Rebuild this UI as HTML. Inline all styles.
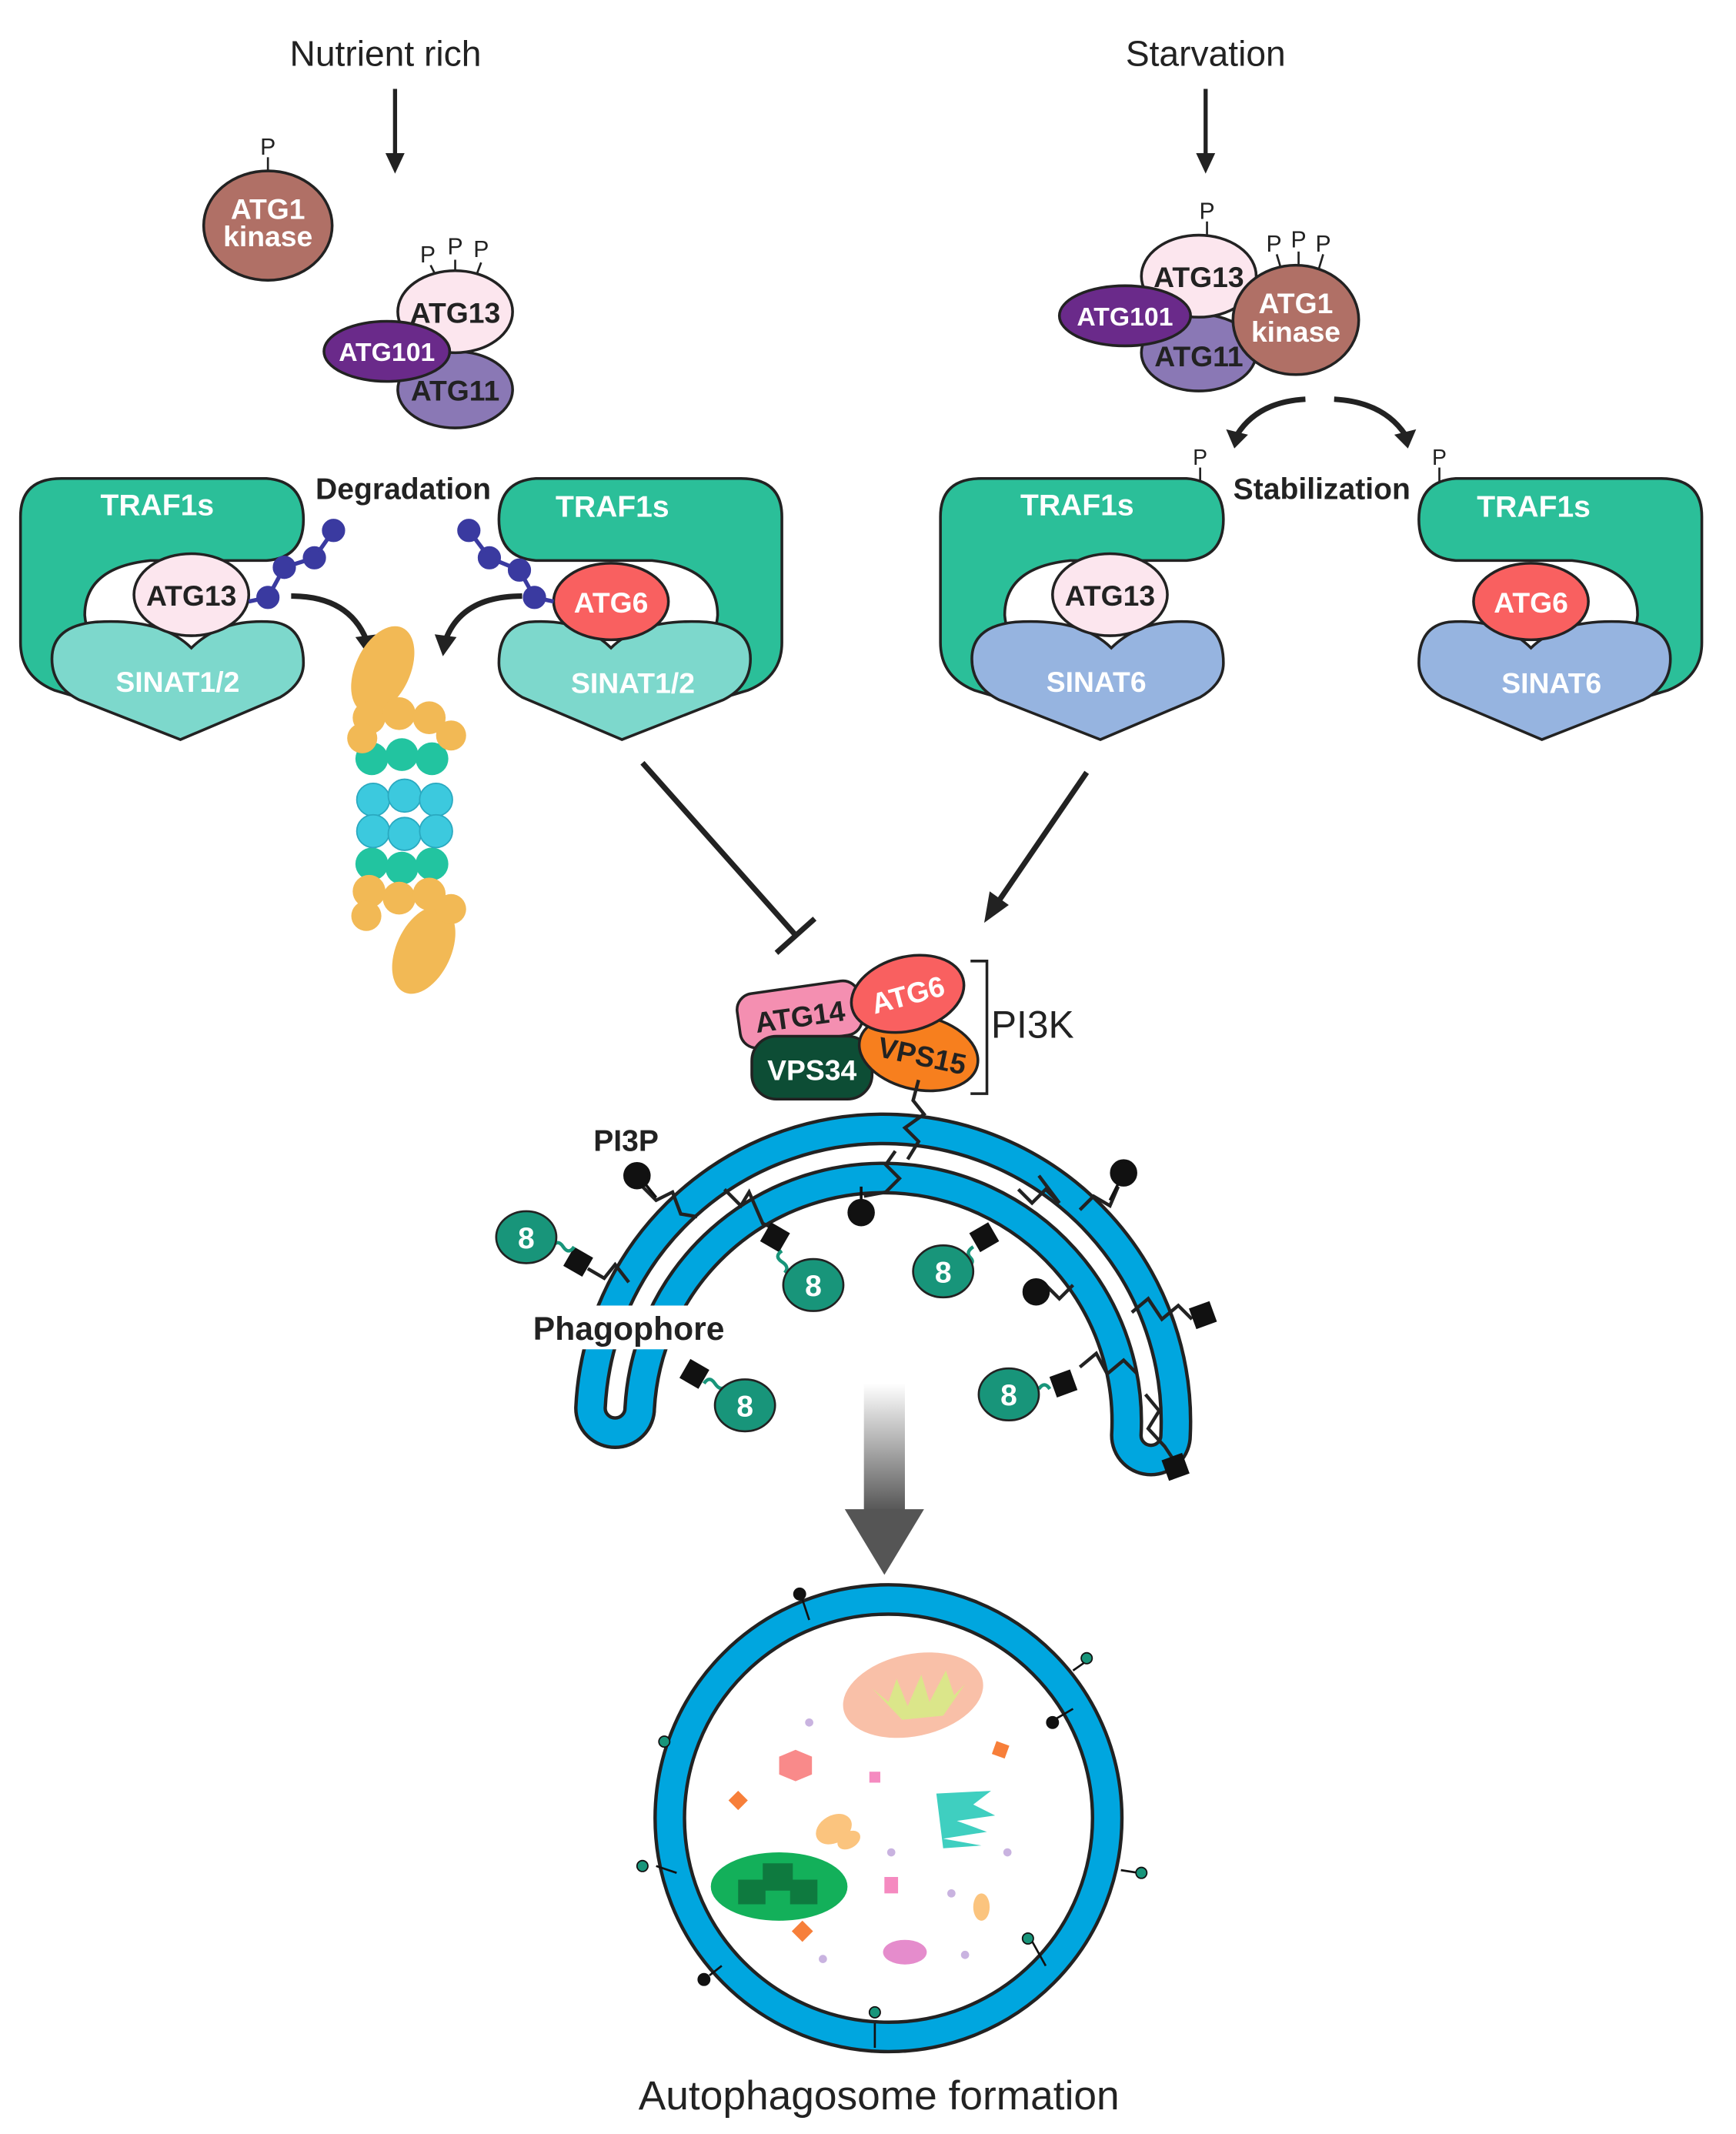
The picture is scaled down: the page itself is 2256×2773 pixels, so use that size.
<!DOCTYPE html>
<html><head><meta charset="utf-8"><style>
html,body{margin:0;padding:0;background:#fff}
svg{display:block}
text{font-family:"Liberation Sans",Arial,sans-serif}
</style></head><body>
<svg xmlns="http://www.w3.org/2000/svg" width="2256" height="2773" viewBox="0 0 1270 1561">
<defs>
<path id="traf" d="M45 350 L195 350 Q222 352 222 380 Q222 408 195 410 L110 410 Q62 415 62 450 Q64 475 90 490 L90 520 L40 505 Q15 495 15 470 L15 378 Q15 350 45 350 Z" stroke="#222" stroke-width="2"/>
<path id="sinat" d="M38 482 Q38 458 70 455 Q118 452 140 474 Q162 452 200 455 Q222 458 222 485 Q222 500 205 510 L132 541 L58 512 Q38 502 38 482 Z" stroke="#222" stroke-width="2"/>
<linearGradient id="gr" x1="0" y1="0" x2="0" y2="1"><stop offset="0" stop-color="#fff"/><stop offset="1" stop-color="#555"/></linearGradient>
<g id="a8"><ellipse rx="22" ry="19" fill="#18957a" stroke="#222" stroke-width="1.5"/><text x="0" y="8" font-size="22" font-weight="bold" fill="#fff" text-anchor="middle">8</text></g>
</defs>

<text x="282" y="48" font-size="26" text-anchor="middle" fill="#222">Nutrient rich</text>
<text x="882" y="48" font-size="26" text-anchor="middle" fill="#222">Starvation</text>
<line x1="289" y1="65" x2="289" y2="115" stroke="#222" stroke-width="3"/><polygon points="282,112 296,112 289,127" fill="#222"/>
<line x1="882" y1="65" x2="882" y2="115" stroke="#222" stroke-width="3"/><polygon points="875,112 889,112 882,127" fill="#222"/>

<text x="196" y="113" font-size="17" text-anchor="middle" fill="#222">P</text>
<line x1="196" y1="115" x2="196" y2="126" stroke="#222" stroke-width="1.5"/>
<ellipse cx="196" cy="165" rx="47" ry="40" fill="#b07066" stroke="#222" stroke-width="2"/>
<text x="196" y="160" font-size="21" font-weight="bold" fill="#fff" text-anchor="middle">ATG1</text>
<text x="196" y="180" font-size="21" font-weight="bold" fill="#fff" text-anchor="middle">kinase</text>
<text x="313" y="192" font-size="17" text-anchor="middle" fill="#222">P</text>
<text x="333" y="186" font-size="17" text-anchor="middle" fill="#222">P</text>
<text x="352" y="188" font-size="17" text-anchor="middle" fill="#222">P</text>
<path d="M315 194 L318 200 M333 190 L333 199 M352 192 L349 200" stroke="#222" stroke-width="1.5"/>
<ellipse cx="333" cy="285" rx="42" ry="28" fill="#8a78b5" stroke="#222" stroke-width="2"/>
<text x="333" y="293" font-size="21" font-weight="bold" fill="#222" text-anchor="middle">ATG11</text>
<ellipse cx="333" cy="228" rx="42" ry="30" fill="#fce6ee" stroke="#222" stroke-width="2"/>
<text x="333" y="236" font-size="21" font-weight="bold" fill="#222" text-anchor="middle">ATG13</text>
<ellipse cx="283" cy="257" rx="46" ry="22" fill="#6a2a8a" stroke="#222" stroke-width="2"/>
<text x="283" y="264" font-size="19" font-weight="bold" fill="#fff" text-anchor="middle">ATG101</text>

<text x="883" y="160" font-size="17" text-anchor="middle" fill="#222">P</text>
<line x1="883" y1="162" x2="883" y2="173" stroke="#222" stroke-width="1.5"/>
<text x="932" y="184" font-size="17" text-anchor="middle" fill="#222">P</text>
<text x="950" y="181" font-size="17" text-anchor="middle" fill="#222">P</text>
<text x="968" y="184" font-size="17" text-anchor="middle" fill="#222">P</text>
<path d="M934 186 L937 196 M950 184 L950 195 M968 186 L965 196" stroke="#222" stroke-width="1.5"/>
<ellipse cx="877" cy="258" rx="42" ry="28" fill="#8a78b5" stroke="#222" stroke-width="2"/>
<text x="877" y="268" font-size="21" font-weight="bold" fill="#222" text-anchor="middle">ATG11</text>
<ellipse cx="877" cy="202" rx="42" ry="30" fill="#fce6ee" stroke="#222" stroke-width="2"/>
<text x="877" y="210" font-size="21" font-weight="bold" fill="#222" text-anchor="middle">ATG13</text>
<ellipse cx="823" cy="231" rx="48" ry="22" fill="#6a2a8a" stroke="#222" stroke-width="2"/>
<text x="823" y="238" font-size="19" font-weight="bold" fill="#fff" text-anchor="middle">ATG101</text>
<ellipse cx="948" cy="234" rx="46" ry="40" fill="#b07066" stroke="#222" stroke-width="2"/>
<text x="948" y="229" font-size="21" font-weight="bold" fill="#fff" text-anchor="middle">ATG1</text>
<text x="948" y="250" font-size="21" font-weight="bold" fill="#fff" text-anchor="middle">kinase</text>
<path d="M955 292 Q920 294 905 318" fill="none" stroke="#222" stroke-width="4"/><polygon points="897,314 913,318 903,328" fill="#222"/>
<path d="M976 292 Q1012 294 1028 318" fill="none" stroke="#222" stroke-width="4"/><polygon points="1020,318 1036,314 1030,328" fill="#222"/>

<text x="295" y="365" font-size="22" font-weight="bold" fill="#222" text-anchor="middle">Degradation</text>
<text x="967" y="365" font-size="22" font-weight="bold" fill="#222" text-anchor="middle">Stabilization</text>
<text x="878" y="340" font-size="16" fill="#222" text-anchor="middle">P</text><line x1="878" y1="342" x2="878" y2="352" stroke="#222" stroke-width="1.5"/>
<text x="1053" y="340" font-size="16" fill="#222" text-anchor="middle">P</text><line x1="1053" y1="342" x2="1053" y2="352" stroke="#222" stroke-width="1.5"/>

<use href="#traf" fill="#2bbf99"/>
<use href="#sinat" fill="#7dd8cc"/>
<g transform="translate(587,0) scale(-1,1)"><use href="#traf" fill="#2bbf99"/><use href="#sinat" fill="#7dd8cc"/></g>
<g transform="translate(673,0)"><use href="#traf" fill="#2bbf99"/><use href="#sinat" fill="#96b4e0"/></g>
<g transform="translate(1260,0) scale(-1,1)"><use href="#traf" fill="#2bbf99"/><use href="#sinat" fill="#96b4e0"/></g>

<g font-weight="bold" fill="#fff" text-anchor="middle">
<text x="115" y="377" font-size="22">TRAF1s</text>
<text x="448" y="378" font-size="22">TRAF1s</text>
<text x="788" y="377" font-size="22">TRAF1s</text>
<text x="1122" y="378" font-size="22">TRAF1s</text>
<text x="130" y="506" font-size="21">SINAT1/2</text>
<text x="463" y="507" font-size="21">SINAT1/2</text>
<text x="802" y="506" font-size="21">SINAT6</text>
<text x="1135" y="507" font-size="21">SINAT6</text>
</g>
<ellipse cx="140" cy="435" rx="42" ry="30" fill="#fce6ee" stroke="#222" stroke-width="2"/>
<text x="140" y="443" font-size="21" font-weight="bold" fill="#222" text-anchor="middle">ATG13</text>
<ellipse cx="447" cy="440" rx="42" ry="28" fill="#f96060" stroke="#222" stroke-width="2"/>
<text x="447" y="448" font-size="21" font-weight="bold" fill="#fff" text-anchor="middle">ATG6</text>
<ellipse cx="812" cy="435" rx="42" ry="30" fill="#fce6ee" stroke="#222" stroke-width="2"/>
<text x="812" y="443" font-size="21" font-weight="bold" fill="#222" text-anchor="middle">ATG13</text>
<ellipse cx="1120" cy="440" rx="42" ry="28" fill="#f96060" stroke="#222" stroke-width="2"/>
<text x="1120" y="448" font-size="21" font-weight="bold" fill="#fff" text-anchor="middle">ATG6</text>

<g stroke="#3a3aa0" stroke-width="3" fill="#3a3aa0">
<polyline points="182,440 196,437 208,415 230,408 244,388" fill="none"/>
<circle cx="196" cy="437" r="7"/><circle cx="208" cy="415" r="7"/><circle cx="230" cy="408" r="7"/><circle cx="244" cy="388" r="7"/>
<polyline points="405,440 391,437 380,417 358,408 343,388" fill="none"/>
<circle cx="391" cy="437" r="7"/><circle cx="380" cy="417" r="7"/><circle cx="358" cy="408" r="7"/><circle cx="343" cy="388" r="7"/>
</g>
<path d="M213 436 Q255 436 268 468" fill="none" stroke="#222" stroke-width="4"/><polygon points="260,466 276,464 270,480" fill="#222"/>
<path d="M382 436 Q338 436 326 468" fill="none" stroke="#222" stroke-width="4"/><polygon points="318,464 334,466 324,480" fill="#222"/>

<!-- proteasome -->
<ellipse cx="280" cy="490" rx="20" ry="34" fill="#f2b955" transform="rotate(25 280 490)"/>
<ellipse cx="310" cy="695" rx="20" ry="34" fill="#f2b955" transform="rotate(25 310 695)"/>
<g fill="#22c4a0"><circle cx="272" cy="555" r="12"/><circle cx="294" cy="552" r="12"/><circle cx="316" cy="555" r="12"/><circle cx="272" cy="632" r="12"/><circle cx="294" cy="635" r="12"/><circle cx="316" cy="632" r="12"/></g>
<g fill="#f2b955"><circle cx="270" cy="525" r="12"/><circle cx="292" cy="522" r="12"/><circle cx="314" cy="525" r="12"/><circle cx="330" cy="538" r="11"/><circle cx="265" cy="540" r="11"/>
<circle cx="270" cy="652" r="12"/><circle cx="292" cy="657" r="12"/><circle cx="314" cy="654" r="12"/><circle cx="330" cy="665" r="11"/><circle cx="268" cy="670" r="11"/></g>
<g fill="#3cc9de" stroke="#2aa9c0" stroke-width="1"><circle cx="273" cy="585" r="12"/><circle cx="296" cy="582" r="12"/><circle cx="319" cy="585" r="12"/><circle cx="273" cy="608" r="12"/><circle cx="296" cy="610" r="12"/><circle cx="319" cy="608" r="12"/></g>

<line x1="470" y1="558" x2="582" y2="684" stroke="#222" stroke-width="4"/>
<line x1="568" y1="697" x2="596" y2="672" stroke="#222" stroke-width="4"/>
<line x1="795" y1="565" x2="730" y2="660" stroke="#222" stroke-width="4"/>
<polygon points="720,675 724,652 738,662" fill="#222"/>

<path d="M432 1030 A213 213 0 0 1 860 1050 A18 18 0 0 1 824 1050 A177 177 0 0 0 468 1030 A18 18 0 0 1 432 1030 Z" fill="none" stroke="#222" stroke-width="24"/>
<path d="M432 1030 A213 213 0 0 1 860 1050 A18 18 0 0 1 824 1050 A177 177 0 0 0 468 1030 A18 18 0 0 1 432 1030 Z" fill="none" stroke="#00a6df" stroke-width="19"/>

<rect x="540" y="722" width="90" height="40" rx="12" fill="#f48fb1" stroke="#222" stroke-width="2" transform="rotate(-8 585 742)"/>
<rect x="550" y="758" width="88" height="46" rx="18" fill="#0d4d35" stroke="#222" stroke-width="2"/>
<text x="594" y="790" font-size="21" font-weight="bold" fill="#fff" text-anchor="middle">VPS34</text>
<text x="585" y="751" font-size="21" font-weight="bold" fill="#222" text-anchor="middle" transform="rotate(-8 585 742)">ATG14</text>
<ellipse cx="672" cy="770" rx="44" ry="27" fill="#f77f1e" stroke="#222" stroke-width="2" transform="rotate(12 672 770)"/>
<text x="675" y="779" font-size="21" font-weight="bold" fill="#222" text-anchor="middle" transform="rotate(12 672 770)">VPS15</text>
<ellipse cx="664" cy="727" rx="42" ry="27" fill="#f96060" stroke="#222" stroke-width="2" transform="rotate(-15 664 727)"/>
<text x="664" y="735" font-size="21" font-weight="bold" fill="#fff" text-anchor="middle" transform="rotate(-15 664 727)">ATG6</text>
<polyline points="710,703 722,703 722,800 710,800" fill="none" stroke="#222" stroke-width="2"/>
<text x="725" y="759" font-size="28" fill="#222">PI3K</text>

<g fill="none" stroke="#222" stroke-width="2.5">
<polyline points="672,790 668,805 676,815 662,825 672,835 664,848"/>
<polyline points="655,842 648,852 658,862 648,872 632,875"/>
<polyline points="470,868 480,878 492,872 498,888 510,890"/>
<polyline points="530,870 542,882 548,872 558,895 570,900"/>
<polyline points="745,870 755,880 765,870 775,880 760,860"/>
<polyline points="790,885 800,875 812,882 818,868"/>
<polyline points="828,960 840,950 850,965 862,955 872,965"/>
<polyline points="790,1000 802,990 810,1005 822,995 832,1005"/>
<polyline points="838,1020 848,1032 840,1045 852,1058 860,1070"/>
<polyline points="430,928 442,935 450,925 460,938"/>
<polyline points="755,950 765,940 775,950 785,940"/>
</g>
<g fill="#111" stroke="#111" stroke-width="2">
<circle cx="466" cy="860" r="9"/><line x1="472" y1="866" x2="480" y2="876"/>
<circle cx="630" cy="887" r="9"/><line x1="630" y1="878" x2="630" y2="868"/>
<circle cx="822" cy="858" r="9"/><line x1="818" y1="866" x2="812" y2="878"/>
<circle cx="758" cy="945" r="9"/>
</g>
<g fill="#111">
<rect x="415" y="915" width="16" height="16" transform="rotate(30 423 923)"/>
<rect x="559" y="897" width="16" height="16" transform="rotate(30 567 905)"/>
<rect x="712" y="897" width="16" height="16" transform="rotate(-30 720 905)"/>
<rect x="500" y="997" width="16" height="16" transform="rotate(30 508 1005)"/>
<rect x="770" y="1004" width="16" height="16" transform="rotate(-20 778 1012)"/>
<rect x="872" y="954" width="16" height="16" transform="rotate(-20 880 962)"/>
<rect x="852" y="1065" width="16" height="16" transform="rotate(-20 860 1073)"/>
</g>
<g fill="none" stroke="#18957a" stroke-width="2.5">
<path d="M404 912 q4 -6 8 0 q4 6 8 0"/>
<path d="M572 915 q-6 4 0 8 q6 4 2 8"/>
<path d="M712 912 q-6 4 -2 8 q4 4 -4 8"/>
<path d="M515 1012 q4 -6 8 0 q4 6 8 2"/>
<path d="M760 1016 q4 -6 8 0"/>
</g>
<use href="#a8" x="385" y="905"/>
<use href="#a8" x="595" y="940"/>
<use href="#a8" x="690" y="930"/>
<use href="#a8" x="545" y="1028"/>
<use href="#a8" x="738" y="1020"/>

<text x="458" y="842" font-size="22" font-weight="bold" fill="#222" text-anchor="middle">PI3P</text>
<rect x="378" y="955" width="165" height="32" fill="#fff"/>
<text x="460" y="980" font-size="24" font-weight="bold" fill="#222" text-anchor="middle">Phagophore</text>

<rect x="632" y="1012" width="30" height="94" fill="url(#gr)"/>
<polygon points="618,1104 676,1104 647,1152" fill="#555"/>

<circle cx="650" cy="1330" r="160" fill="none" stroke="#222" stroke-width="24"/>
<circle cx="650" cy="1330" r="160" fill="none" stroke="#00a6df" stroke-width="19"/>
<ellipse cx="668" cy="1240" rx="52" ry="30" fill="#f9c0a8" transform="rotate(-12 668 1240)"/>
<path d="M638 1235 L650 1245 L656 1228 L664 1248 L674 1225 L680 1245 L692 1222 L698 1240 L706 1232 L690 1255 L660 1258 Z" fill="#dbe68a"/>
<polygon points="582,1280 594,1285 594,1298 582,1303 570,1298 570,1285" fill="#f98a8a"/>
<rect x="636" y="1296" width="8" height="8" fill="#f58ac0"/>
<rect x="535" y="1312" width="10" height="10" fill="#f77f3a" transform="rotate(45 540 1317)"/>
<rect x="727" y="1275" width="10" height="10" fill="#f77f3a" transform="rotate(20 732 1280)"/>
<path d="M685 1312 L725 1310 L712 1320 L728 1328 L700 1332 L722 1340 L690 1345 L718 1350 L690 1352 Z" fill="#3fcfc0"/>
<ellipse cx="610" cy="1338" rx="14" ry="10" fill="#fbc47e" transform="rotate(-30 610 1338)"/>
<ellipse cx="621" cy="1346" rx="9" ry="6" fill="#fbc47e" transform="rotate(-30 621 1346)"/>
<ellipse cx="570" cy="1380" rx="50" ry="25" fill="#13b05a"/>
<path d="M540 1375 h18 v-12 h22 v12 h18 v18 h-20 v-10 h-18 v10 h-20 z" fill="#0e7a3f"/>
<rect x="647" y="1373" width="10" height="12" fill="#f58ac0"/>
<rect x="582" y="1407" width="11" height="11" fill="#f77f3a" transform="rotate(45 587 1412)"/>
<ellipse cx="718" cy="1395" rx="6" ry="10" fill="#fbc47e"/>
<ellipse cx="662" cy="1428" rx="16" ry="9" fill="#e58ccc"/>
<g fill="#c9b3e0"><circle cx="592" cy="1260" r="3"/><circle cx="652" cy="1355" r="3"/><circle cx="737" cy="1355" r="3"/><circle cx="696" cy="1385" r="3"/><circle cx="706" cy="1430" r="3"/><circle cx="602" cy="1433" r="3"/></g>
<g fill="#111" stroke="#111" stroke-width="1.5">
<circle cx="585" cy="1166" r="4"/><line x1="587" y1="1170" x2="592" y2="1185"/>
<circle cx="770" cy="1260" r="4"/><line x1="773" y1="1257" x2="785" y2="1250"/>
<circle cx="515" cy="1448" r="4"/><line x1="519" y1="1445" x2="528" y2="1438"/>
<line x1="640" y1="1480" x2="640" y2="1498"/>
<line x1="755" y1="1420" x2="765" y2="1438"/>
<line x1="480" y1="1365" x2="495" y2="1370"/>
<line x1="820" y1="1368" x2="833" y2="1370"/>
<line x1="785" y1="1222" x2="795" y2="1215"/>
</g>
<g fill="#18957a" stroke="#111" stroke-width="1"><circle cx="795" cy="1213" r="4"/><circle cx="470" cy="1365" r="4"/><circle cx="835" cy="1370" r="4"/><circle cx="752" cy="1418" r="4"/><circle cx="640" cy="1472" r="4"/><circle cx="486" cy="1274" r="4"/></g>

<text x="643" y="1543" font-size="30" fill="#222" text-anchor="middle">Autophagosome formation</text>
</svg>
</body></html>
